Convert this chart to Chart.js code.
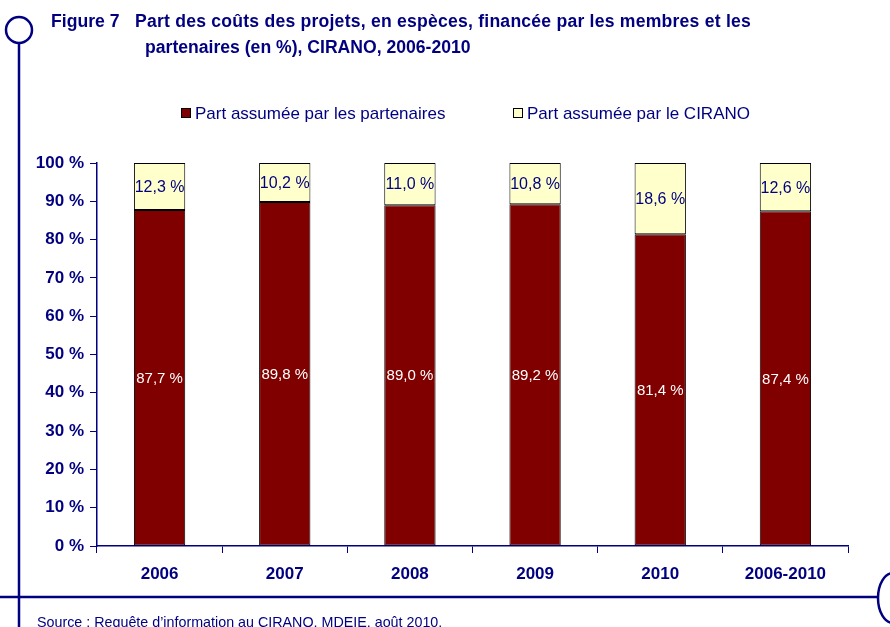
<!DOCTYPE html>
<html><head><meta charset="utf-8">
<script src="https://cdn.jsdelivr.net/npm/chart.js@4/dist/chart.umd.min.js"></script>
<style>
html,body{margin:0;padding:0;background:#fff;}
#wrap{position:relative;width:890px;height:627px;overflow:hidden;font-family:"Liberation Sans",Arial,sans-serif;color:#000080;}
#c{position:absolute;left:0;top:0;}
.t{position:absolute;font-weight:bold;font-size:17.6px;white-space:nowrap;}
#src{position:absolute;left:37px;top:614px;font-size:14.3px;white-space:nowrap;}
</style></head>
<body><div id="wrap">
<canvas id="c" width="890" height="627"></canvas>
<div class="t" style="left:51px;top:11px;"><span style="display:inline-block;width:84px;">Figure 7</span><span style="letter-spacing:0.22px;">Part des coûts des projets, en espèces, financée par les membres et les</span></div>
<div class="t" style="left:145px;top:37px;">partenaires (en %), CIRANO, 2006-2010</div>
<div id="src">Source : Requête d’information au CIRANO, MDEIE, août 2010.</div>
</div>
<script>
const categories = ["2006","2007","2008","2009","2010","2006-2010"];
const partenaires = [87.7, 89.8, 89.0, 89.2, 81.4, 87.4];
const cirano = [12.3, 10.2, 11.0, 10.8, 18.6, 12.6];
const seriesNames = ["Part assumée par les partenaires", "Part assumée par le CIRANO"];
const yTicks = [0,10,20,30,40,50,60,70,80,90,100];

const NAVY = "#000080";
const fmt = v => v.toFixed(1).replace(".", ",") + " %";

const deco = {
  id: "deco",
  afterDraw(chart) {
    const ctx = chart.ctx;
    ctx.save();
    ctx.strokeStyle = NAVY;
    ctx.lineWidth = 2.5;
    ctx.beginPath(); ctx.arc(19, 30, 13, 0, Math.PI*2); ctx.stroke();
    ctx.beginPath(); ctx.moveTo(19, 43); ctx.lineTo(19, 627); ctx.stroke();
    ctx.beginPath(); ctx.moveTo(0, 597); ctx.lineTo(878, 597); ctx.stroke();
    ctx.beginPath(); ctx.ellipse(893, 598, 15, 25, 0, 0, Math.PI*2); ctx.stroke();
    // legend
    ctx.font = "17px 'Liberation Sans', Arial, sans-serif";
    ctx.textBaseline = "middle";
    const items = [[181, "#800000"], [513, "#FFFFCC"]];
    items.forEach((it, i) => {
      ctx.fillStyle = it[1];
      ctx.fillRect(it[0], 108, 10, 10);
      ctx.lineWidth = 1; ctx.strokeStyle = "#000";
      ctx.strokeRect(it[0]+0.5, 108.5, 9, 9);
      ctx.fillStyle = NAVY;
      ctx.fillText(seriesNames[i], it[0] + 14, 114);
    });
    // value labels
    ctx.textAlign = "center";
    chart.data.datasets.forEach((ds, di) => {
      const meta = chart.getDatasetMeta(di);
      ctx.font = (di === 0 ? "15px" : "16px") + " 'Liberation Sans', Arial, sans-serif";
      meta.data.forEach((bar, i) => {
        const y = (bar.y + bar.base) / 2;
        ctx.fillStyle = di === 0 ? "#ffffff" : NAVY;
        ctx.fillText(fmt(ds.data[i]), bar.x, y + 1);
      });
    });
    ctx.restore();
  }
};

new Chart(document.getElementById("c"), {
  type: "bar",
  data: {
    labels: categories,
    datasets: [
      { label: seriesNames[0], data: partenaires, backgroundColor: "#800000", borderColor: "#000", borderWidth: 1, borderSkipped: false },
      { label: seriesNames[1], data: cirano, backgroundColor: "#FFFFCC", borderColor: "#000", borderWidth: 1, borderSkipped: false }
    ]
  },
  options: {
    responsive: false, animation: false, devicePixelRatio: 1,
    layout: { padding: { left: 0, right: 42, top: 163, bottom: 0 } },
    datasets: { bar: { categoryPercentage: 1, barPercentage: 0.41 } },
    plugins: { legend: { display: false }, tooltip: { enabled: false } },
    scales: {
      x: {
        stacked: true,
        afterFit: s => { s.height = 81; },
        grid: { drawOnChartArea: false, tickLength: 7, color: NAVY, offset: true },
        border: { color: NAVY, width: 1.5 },
        ticks: { color: NAVY, font: { family: "'Liberation Sans', Arial", size: 17, weight: "bold" }, padding: 11 }
      },
      y: {
        stacked: true, min: 0, max: 100,
        afterFit: s => { s.width = 97; },
        afterBuildTicks: s => { s.ticks = yTicks.map(v => ({ value: v })); },
        grid: { drawOnChartArea: false, tickLength: 7, color: NAVY },
        border: { color: NAVY, width: 1.5 },
        ticks: { color: NAVY, font: { family: "'Liberation Sans', Arial", size: 17, weight: "bold" }, padding: 6, callback: v => v + " %" }
      }
    }
  },
  plugins: [deco]
});
</script>
</body></html>
